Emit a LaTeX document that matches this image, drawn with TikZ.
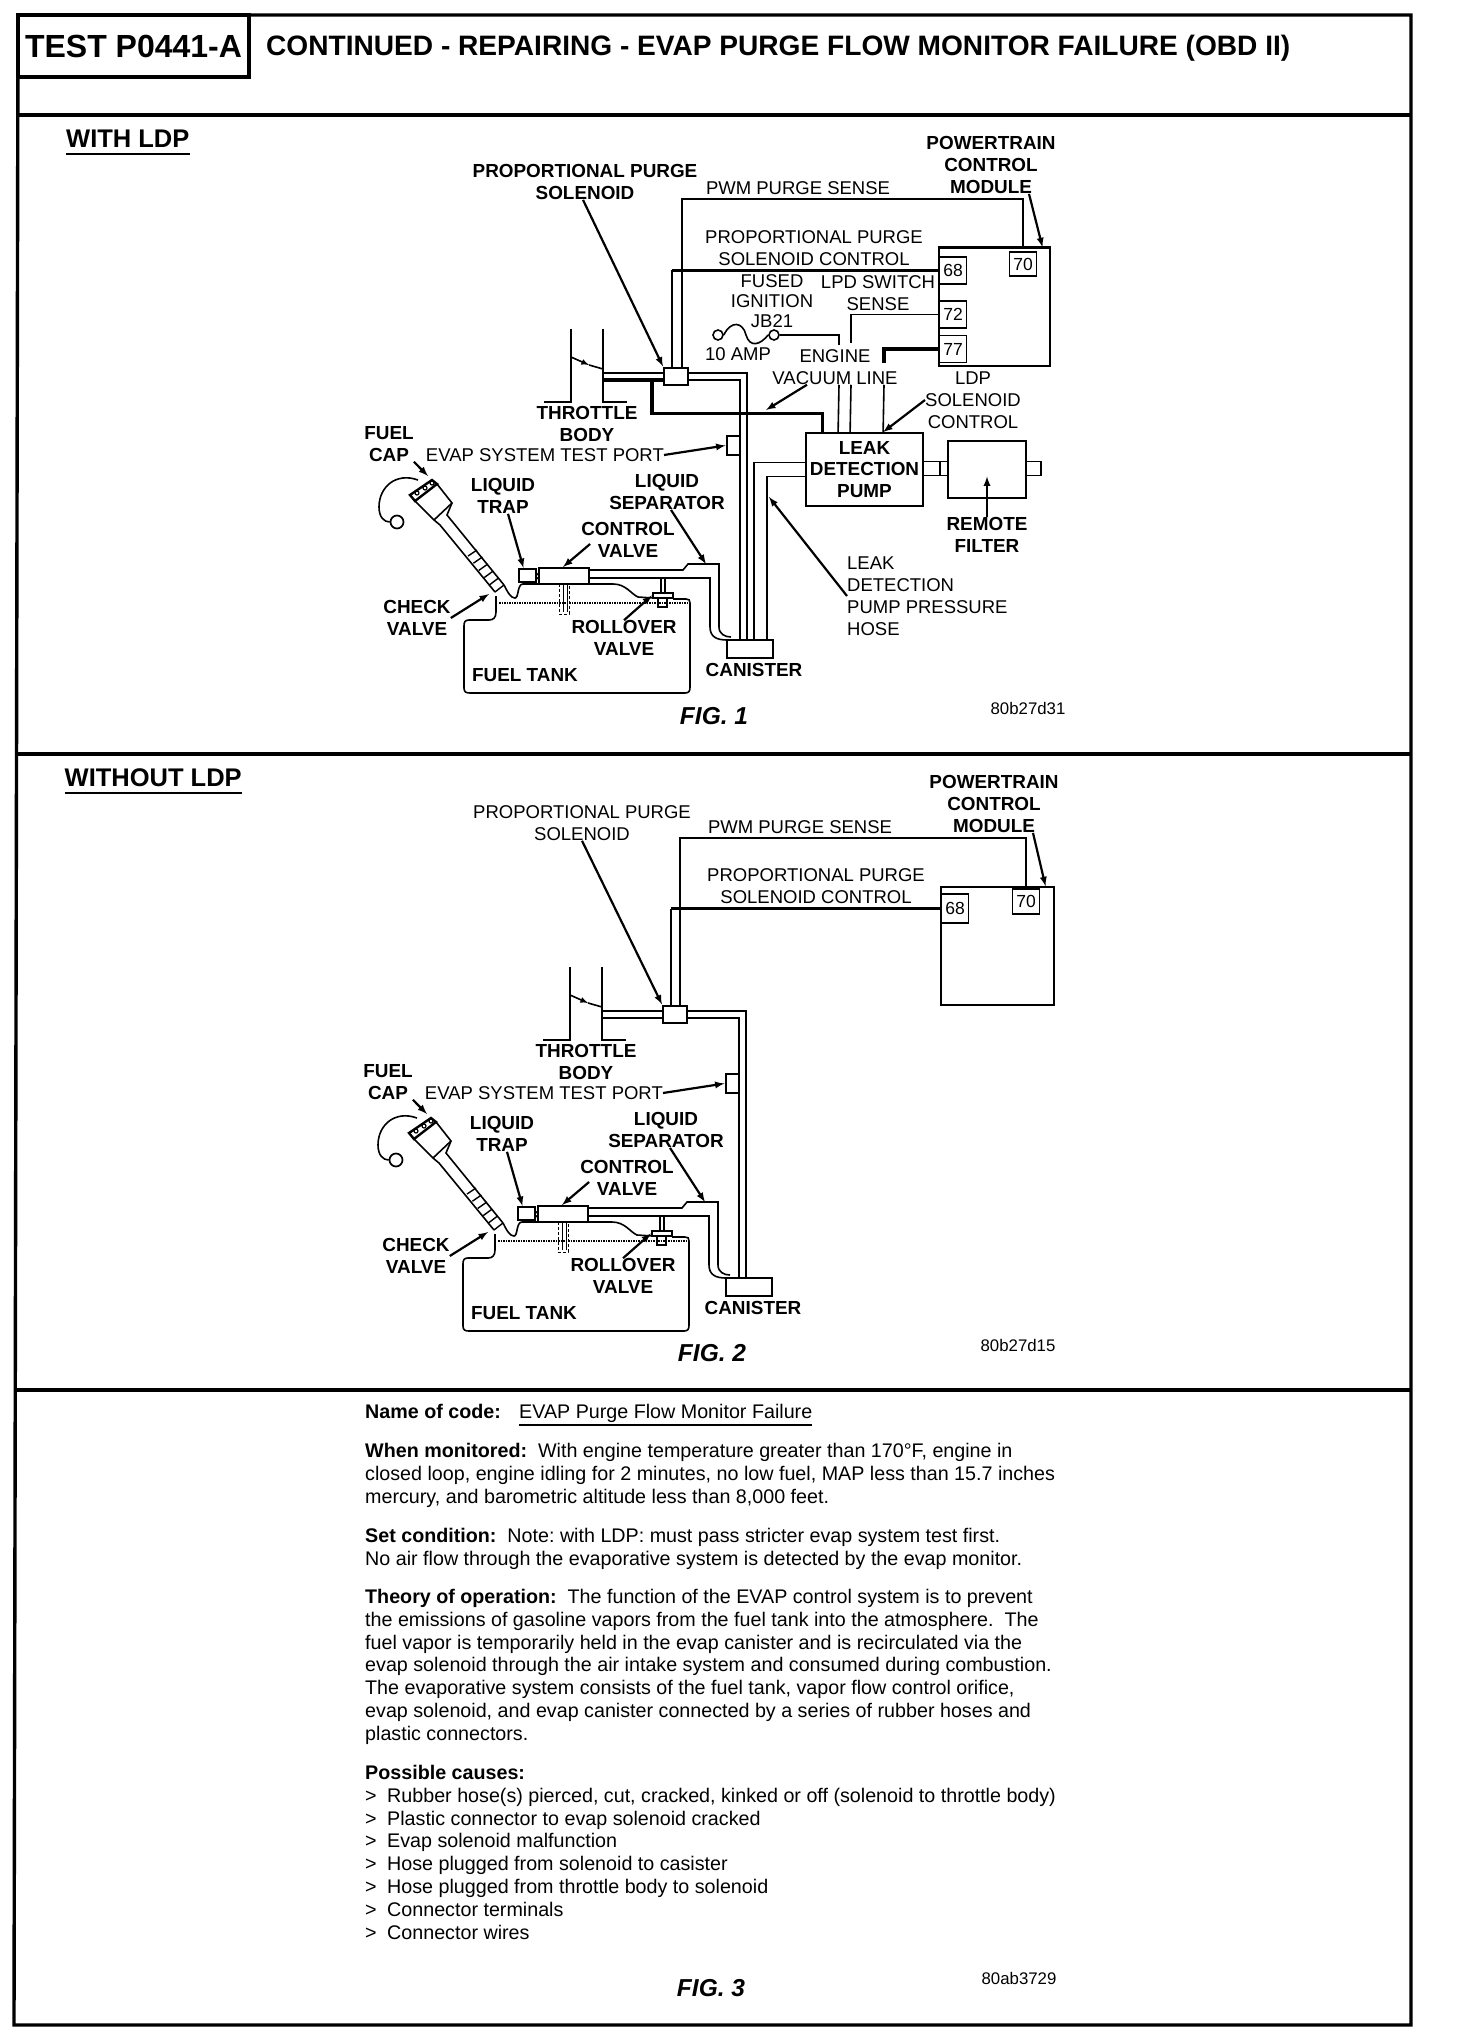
\documentclass[tikz,border=0pt]{standalone}
\usepackage{fontspec}
\setmainfont{Liberation Sans}
\usetikzlibrary{calc}
\newcommand{\causeline}[1]{\makebox[22pt][l]{>}#1}
\tikzset{
 lab/.style={inner sep=0pt, align=center, font=\fontsize{18.5}{22}\selectfont},
 labb/.style={inner sep=0pt, align=center, font=\fontsize{18.9}{22}\selectfont\bfseries},
 para/.style={inner sep=0pt, anchor=north west, align=left, font=\fontsize{19.7}{22.8}\selectfont},
 figlab/.style={inner sep=0pt, font=\fontsize{24.5}{28}\selectfont\bfseries\itshape},
 reflab/.style={inner sep=0pt, font=\fontsize{16.8}{18}\selectfont},
 sect/.style={inner sep=0pt, font=\fontsize{25.5}{28}\selectfont\bfseries},
 frameline/.style={line width=3.4pt},
 wire/.style={line width=1.6pt},
 heavy/.style={line width=3.2pt},
 pointer/.style={->, line width=2.2pt},
 part/.style={draw, line width=2pt, fill=white, inner sep=0pt},
 pinbox/.style={draw, line width=1.8pt, fill=white, inner sep=0pt, minimum width=27pt, minimum height=27pt,
  font=\fontsize{17.5}{20}\selectfont},
 tanksystem/.pic={
  % throttle body
  \draw[wire] (570,967) -- (570,1040) -- (543,1040);
  \draw[wire] (602,967) -- (602,1040) -- (626,1040);
  \draw[wire, ->] (570,995) -- (588,1003);
  \draw[wire] (588,1003) -- (602,1007);
  \coordinate (thr) at (602,1014);
  \node[part, minimum width=24pt, minimum height=17pt] (solenoid) at (675,1014) {};
  \node[part, minimum width=46pt, minimum height=18pt] (canister) at (749,1287) {};
  \node[part, minimum width=13pt, minimum height=19pt] (testport) at (732,1083.5) {};
  \node[part, minimum width=50pt, minimum height=16pt] (ctrlvalve) at (563,1214) {};
  \node[part, minimum width=17pt, minimum height=13pt] (trap) at (526.5,1213.5) {};
  \node[part, minimum width=20pt, minimum height=5pt] (rollcap) at (662,1233.5) {};
  % hoses
  \draw[wire] ([yshift=3pt]thr) -- ([yshift=3pt]solenoid.west);
  \draw[wire] ([yshift=-4pt]thr) -- ([yshift=-4pt]solenoid.west);
  \draw[wire] ([yshift=3pt]solenoid.east) -| ([xshift=-3pt]canister.north);
  \draw[wire] ([yshift=-4pt]solenoid.east) -| ([xshift=-10pt]canister.north);
  \draw[wire] ([yshift=6pt]ctrlvalve.east) -- (682,1208) -- (687,1202) -- (718,1202) -- (718,1265)
   .. controls (718,1272) and (724,1275) .. (730,1275);
  \draw[wire] ([yshift=-2pt]ctrlvalve.east) -- (709,1216) -- (709,1265)
   .. controls (709,1275) and (716,1278) .. (726,1278);
  \draw[wire] (660,1216) -- (660,1231);
  \draw[wire] (664,1216) -- (664,1231);
  \draw[wire] ([yshift=2pt]trap.east) -- ([yshift=1pt]ctrlvalve.west);
  \draw[wire] ([yshift=-2pt]trap.east) -- ([yshift=-3pt]ctrlvalve.west);
  % tank
  \draw[wire] (495,1234) -- (495,1250) .. controls (495,1256) and (492,1258) .. (488,1258) -- (468,1258)
   .. controls (464,1258) and (463,1260) .. (463,1264) -- (463,1326)
   .. controls (463,1330) and (465,1331) .. (469,1331) -- (684,1331)
   .. controls (688,1331) and (689,1329) .. (689,1325) -- (689,1241)
   .. controls (689,1238) and (688,1237) .. (685,1237) -- (672,1237);
  \draw[wire] (652,1236) -- (637,1235) .. controls (630,1232) and (625,1222) .. (612,1222) -- (522,1222)
   .. controls (516,1222) and (518,1236) .. (514,1236) .. controls (510,1236) and (507,1231) .. (503,1223);
  \draw[densely dotted, line width=1.5pt] (498,1241) -- (688,1241);
  \draw[densely dashed, line width=1pt] (558,1222) rectangle (568,1252);
  \draw[line width=1pt] (562,1222) -- (562,1250);
  \draw[line width=1pt] (566,1222) -- (566,1250);
  \draw[wire] (657,1236) -- (657,1245) -- (666,1245) -- (666,1236);
  % filler neck and cap
  \draw[wire] (414,1139) -- (433,1158) -- (439,1163) -- (494,1230);
  \draw[wire] (436,1122) -- (451,1141) -- (446,1153) -- (503,1223);
  \draw[wire] (433,1158) -- (451,1141);
  \coordinate (hatcha) at (467,1194);
  \coordinate (hatchb) at (494,1230);
  \coordinate (hatchc) at (476,1188);
  \coordinate (hatchd) at (503,1223);
  \foreach \t in {0,0.2,0.4,0.6,0.8,1}
   \draw[line width=1.4pt] ($(hatcha)!\t!(hatchb)$) -- ($(hatchc)!\t!(hatchd)$);
  \draw[line width=2.4pt] (409,1133) -- (431,1118) -- (436,1122) -- (414,1139) -- cycle;
  \foreach \a/\b in {416/1131,424/1126,431/1121}
   \draw[line width=1.2pt] (\a,\b) circle (2pt);
  \node[draw, circle, line width=1.7pt, minimum size=13pt, inner sep=0pt] (ring) at (396,1160) {};
  \draw[wire] (417,1118) .. controls (395,1110) and (378,1125) .. (378,1145)
   .. controls (378,1155) and (383,1160) .. (ring.west);
  % labels
  \node[labb] (thrtxt) at (586,1062) {THROTTLE\\BODY};
  \node[labb] (captxt) at (388,1082) {FUEL\\CAP};
  \node[lab, anchor=east] (evaptxt) at (663,1093) {EVAP SYSTEM TEST PORT};
  \node[labb] (traptxt) at (502,1134) {LIQUID\\TRAP};
  \node[labb] (septxt) at (666,1130) {LIQUID\\SEPARATOR};
  \node[labb] (ctrltxt) at (627,1178) {CONTROL\\VALVE};
  \node[labb] (checktxt) at (416,1256) {CHECK\\VALVE};
  \node[labb] (rolltxt) at (623,1276) {ROLLOVER\\VALVE};
  \node[labb] (tanktxt) at (524,1313) {FUEL TANK};
  \node[labb] (cantxt) at (753,1308) {CANISTER};
  % pointers
  \coordinate (captip) at (427,1114);
  \coordinate (checktip) at (488,1232);
  \coordinate (septip) at (705,1202);
  \draw[pointer] (captxt.south east) -- (captip);
  \draw[pointer] (evaptxt.east) -- (testport.west);
  \draw[pointer] ([xshift=5pt]traptxt.south) -- ([xshift=-4pt]trap.north);
  \draw[pointer] ([shift={(9,4)}]ctrltxt.west) -- ([xshift=-1pt]ctrlvalve.north);
  \draw[pointer] ([xshift=4pt]septxt.south) -- (septip);
  \draw[pointer] (checktxt.east) -- (checktip);
  \draw[pointer] (rolltxt.north) -- (rollcap.west);
 }
}
\begin{document}
\begin{tikzpicture}[>=latex, x=1pt, y=-1pt]
 \path[use as bounding box, fill=white] (0,0) rectangle (1456,2036);
 % frame and titles
 \draw[frameline] (18,15) -- (1411,15) -- (1411,2025) -- (14,2025) -- cycle;
 \draw[frameline] (17,115) -- (1411,115);
 \draw[frameline] (16,754) -- (1411,754);
 \draw[frameline] (15,1390) -- (1411,1390);
 \node[draw, frameline, inner sep=0pt, minimum width=231pt, minimum height=62pt, font=\fontsize{32}{36}\selectfont\bfseries] (testbox) at (133.5,46) {TEST P0441-A};
 \node[inner sep=0pt, anchor=west, font=\fontsize{28.1}{32}\selectfont\bfseries] (headtxt) at (266,48) {CONTINUED - REPAIRING - EVAP PURGE FLOW MONITOR FAILURE (OBD II)};
 \node[sect, anchor=west] (withtxt) at (66,139) {WITH LDP};
 \draw[wire] ([yshift=-6pt]withtxt.south west) -- ([yshift=-6pt]withtxt.south east);
 \node[sect, anchor=west] (withouttxt) at (64.5,778) {WITHOUT LDP};
 \draw[wire] ([yshift=-6pt]withouttxt.south west) -- ([yshift=-6pt]withouttxt.south east);

 % fig 1
 \pic (figone) at (1,-638) {tanksystem};
 \node[draw, wire, fill=white, inner sep=0pt, minimum width=111pt, minimum height=118pt] (pcmone) at (994.5,307) {};
 \draw[heavy] (pcmone.north west) -- (pcmone.north east);
 \node[pinbox, minimum height=24pt] (pinseventyone) at (1023,264) {70};
 \node[pinbox] (pinsixeightone) at (953,270.5) {68};
 \node[pinbox] (pinseventwoone) at (953,314.5) {72};
 \node[pinbox] (pinsevensevenone) at (953,349) {77};
 \node[draw, line width=1.8pt, fill=white, inner sep=0pt, minimum width=117pt, minimum height=73pt, font=\fontsize{18.9}{21.5}\selectfont\bfseries, align=center] (pumpone) at (864.5,469.5) {LEAK\\DETECTION\\PUMP};
 \node[draw, line width=2.2pt, inner sep=0pt, minimum width=78pt, minimum height=57pt] (filterone) at (987,469.5) {};
 \node[draw, circle, wire, minimum size=10pt, inner sep=0pt] (fusea) at (718,335) {};
 \node[draw, circle, wire, minimum size=10pt, inner sep=0pt] (fuseb) at (774,335) {};
 \draw[wire] (fusea.east) .. controls (731,320) and (743,322) .. (746,335) .. controls (750,348) and (760,345) .. (fuseb.west);
 \node[labb] (soltxtone) at (585,182) {PROPORTIONAL PURGE\\SOLENOID};
 \node[lab] (pwmtxtone) at (798,188) {PWM PURGE SENSE};
 \node[lab] (ctltxtone) at (814,248) {PROPORTIONAL PURGE\\SOLENOID CONTROL};
 \node[labb] (pcmtxtone) at (991,165) {POWERTRAIN\\CONTROL\\MODULE};
 \node[lab, font=\fontsize{18.5}{20}\selectfont] (fusetxt) at (772,301) {FUSED\\IGNITION\\JB21};
 \node[lab] (amptxt) at (738,354) {10 AMP};
 \node[lab] (lpdtxt) at (878,293) {LPD SWITCH\\SENSE};
 \node[lab] (vactxt) at (835,367) {ENGINE\\VACUUM LINE};
 \node[lab] (ldptxt) at (973,400) {LDP\\SOLENOID\\CONTROL};
 \node[labb] (filtertxt) at (987,535) {REMOTE\\FILTER};
 \node[lab, align=left, anchor=west] (hosetxt) at (847,596) {LEAK\\DETECTION\\PUMP PRESSURE\\HOSE};
 \node[figlab] (figonetxt) at (714,716) {FIG. 1};
 \node[reflab] (refone) at (1028,708) {80b27d31};
 \coordinate (vacend) at (839,345);
 \coordinate (sensend) at (851,343);
 \coordinate (ldpend) at (884,363);
 \coordinate (vacarrow) at (766,410);
 \coordinate (hosearrow) at (769,497);
 % wires
 \draw[wire] (pcmone.north -| pinseventyone) -- ++(0,-48) -| ([xshift=6pt]figonesolenoid.north);
 \path (pinsixeightone.west) -| coordinate[pos=0.5] (bendone) ([xshift=-4pt]figonesolenoid.north);
 \draw[heavy] (pinsixeightone.west) -- (bendone);
 \draw[wire] (bendone) -- ([xshift=-4pt]figonesolenoid.north);
 \draw[wire] (pinseventwoone.west) -| (sensend);
 \draw[heavy] (pinsevensevenone.west) -| (ldpend);
 \draw[wire] (fuseb.east) -| (vacend);
 \draw[wire] ([xshift=4pt]vactxt.south) -- ([xshift=33pt]pumpone.north west);
 \draw[wire] ([xshift=16pt]vactxt.south) -- ([xshift=45pt]pumpone.north west);
 \draw[wire] ([xshift=49pt]vactxt.south) -- ([xshift=78pt]pumpone.north west);
 \draw[heavy] ([yshift=-4pt]figonethr) -- ([yshift=-4pt]figonesolenoid.west);
 \draw[heavy] ([shift={(-11,-5)}]figonesolenoid.south west) -- ++(0,33) -| ([xshift=17pt]pumpone.north west);
 \draw[wire] ([yshift=7pt]pumpone.west) -| ([xshift=4pt]figonecanister.north);
 \draw[wire] ([yshift=-7pt]pumpone.west) -| ([xshift=17pt]figonecanister.north);
 \draw[wire] ([yshift=8pt]pumpone.east) -- ([yshift=8pt]filterone.west);
 \draw[wire] ([yshift=-6pt]pumpone.east) -- ([yshift=-6pt]filterone.west);
 \draw[wire] ([xshift=16pt,yshift=8pt]pumpone.east) -- ([xshift=16pt,yshift=-6pt]pumpone.east);
 \draw[wire] ([yshift=8pt]filterone.east) -- ++(14,0) -- ++(0,14) -- ([yshift=-6pt]filterone.east);
 % pointers
 \draw[pointer] ([xshift=-2pt]soltxtone.south) -- (figonesolenoid.north west);
 \draw[pointer] ([xshift=38pt]pcmtxtone.south) -- ([xshift=48pt]pcmone.north);
 \draw[pointer] ([xshift=-28pt]vactxt.south) -- (vacarrow);
 \draw[pointer] (ldptxt.west) -- ([xshift=78pt]pumpone.north west);
 \draw[pointer] (filtertxt.north) -- ([yshift=-7pt]filterone.center);
 \draw[pointer] (hosetxt.west) -- (hosearrow);

 % fig 2
 \pic (figtwo) at (0,0) {tanksystem};
 \node[draw, wire, fill=white, inner sep=0pt, minimum width=113pt, minimum height=118pt] (pcmtwo) at (997.5,946) {};
 \node[pinbox, minimum height=25pt] (pinseventytwo) at (1026,901.5) {70};
 \node[pinbox, minimum height=29pt] (pinsixeighttwo) at (955,908.5) {68};
 \node[lab] (soltxttwo) at (582,823) {PROPORTIONAL PURGE\\SOLENOID};
 \node[lab] (pwmtxttwo) at (800,827) {PWM PURGE SENSE};
 \node[lab] (ctltxttwo) at (816,886) {PROPORTIONAL PURGE\\SOLENOID CONTROL};
 \node[labb] (pcmtxttwo) at (994,804) {POWERTRAIN\\CONTROL\\MODULE};
 \node[figlab] (figtwotxt) at (712,1353) {FIG. 2};
 \node[reflab] (reftwo) at (1018,1345) {80b27d15};
 \draw[wire] (pcmtwo.north -| pinseventytwo) -- ++(0,-48) -| ([xshift=5pt]figtwosolenoid.north);
 \path (pinsixeighttwo.west) -| coordinate[pos=0.5] (bendtwo) ([xshift=-4pt]figtwosolenoid.north);
 \draw[heavy] (pinsixeighttwo.west) -- (bendtwo);
 \draw[wire] (bendtwo) -- ([xshift=-4pt]figtwosolenoid.north);
 \draw[pointer] (soltxttwo.south) -- (figtwosolenoid.north west);
 \draw[pointer] ([xshift=39pt]pcmtxttwo.south) -- ([xshift=48pt]pcmtwo.north);

 % fig 3
 \node[para, font=\fontsize{19.7}{22.8}\selectfont\bfseries] (nametxt) at (365,1404) {Name of code:};
 \node[para] (evapname) at (519,1404) {EVAP Purge Flow Monitor Failure};
 \draw[wire] ([yshift=-2pt]evapname.south west) -- ([yshift=-2pt]evapname.south east);
 \node[para] (whentxt) at (365,1443) {\textbf{When monitored:}\ \ With engine temperature greater than 170°F, engine in\\
  closed loop, engine idling for 2 minutes, no low fuel, MAP less than 15.7 inches\\
  mercury, and barometric altitude less than 8,000 feet.};
 \node[para] (settxt) at (365,1528) {\textbf{Set condition:}\ \ Note:\ with LDP:\ must pass stricter evap system test first.\\
  No air flow through the evaporative system is detected by the evap monitor.};
 \node[para] (theorytxt) at (365,1589) {\textbf{Theory of operation:}\ \ The function of the EVAP control system is to prevent\\
  the emissions of gasoline vapors from the fuel tank into the atmosphere.\ \ The\\
  fuel vapor is temporarily held in the evap canister and is recirculated via the\\
  evap solenoid through the air intake system and consumed during combustion.\\
  The evaporative system consists of the fuel tank, vapor flow control orifice,\\
  evap solenoid, and evap canister connected by a series of rubber hoses and\\
  plastic connectors.};
 \node[para] (causetxt) at (365,1765) {\textbf{Possible causes:}\\
  \causeline{Rubber hose(s) pierced, cut, cracked, kinked or off (solenoid to throttle body)}\\
  \causeline{Plastic connector to evap solenoid cracked}\\
  \causeline{Evap solenoid malfunction}\\
  \causeline{Hose plugged from solenoid to casister}\\
  \causeline{Hose plugged from throttle body to solenoid}\\
  \causeline{Connector terminals}\\
  \causeline{Connector wires}};
 \node[figlab] (figthreetxt) at (711,1988) {FIG. 3};
 \node[reflab] (refthree) at (1019,1978) {80ab3729};
\end{tikzpicture}
\end{document}
